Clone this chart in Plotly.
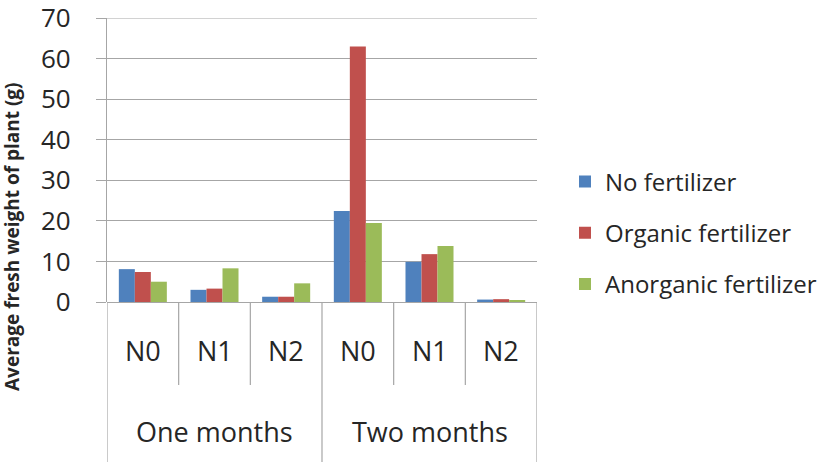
import plotly.graph_objects as go

groups = ["One months", "Two months"]
levels = ["N0", "N1", "N2"]
series_names = ["No fertilizer", "Organic fertilizer", "Anorganic fertilizer"]
no_fert = [8.1, 3.0, 1.3, 22.4, 9.9, 0.6]
organic = [7.4, 3.3, 1.3, 63.0, 11.8, 0.7]
anorganic = [5.0, 8.3, 4.6, 19.5, 13.8, 0.3]
colors = ["#4F81BD", "#C0504D", "#9BBB59"]
y_ticks = [0, 10, 20, 30, 40, 50, 60, 70]

W, H = 839, 466
ml, mr, mt, mb = 107, 302, 18, 164
ph = H - mt - mb

n_cat = len(groups) * len(levels)
xs = list(range(n_cat))
font = "Open Sans"
grid = "#A6A6A6"
txt = "#262626"

fig = go.Figure()
for name, vals, c in zip(series_names, [no_fert, organic, anorganic], colors):
    fig.add_trace(go.Bar(x=xs, y=vals, name=name, marker=dict(color=c, line=dict(width=0)),
                         legendgroup=name))

shapes = []
for b in range(n_cat + 1):
    outer = b % len(levels) == 0
    depth = (462 - 302) if outer else (385 - 302)
    shapes.append(dict(type="line", xref="x", yref="paper", x0=b - 0.5, x1=b - 0.5,
                       y0=0, y1=-depth / ph, line=dict(color=grid, width=1.2)))
# top gridline (at the last tick value)
shapes.append(dict(type="line", xref="paper", yref="y", x0=0, x1=1,
                   y0=y_ticks[-1], y1=y_ticks[-1], line=dict(color=grid, width=1.2)))

annotations = []
for i in range(n_cat):
    annotations.append(dict(x=i, y=-(350 - 302) / ph, xref="x", yref="paper",
                            text=levels[i % len(levels)], showarrow=False,
                            font=dict(family=font, size=27, color=txt),
                            xanchor="center", yanchor="middle"))
for g, gname in enumerate(groups):
    cx = g * len(levels) + (len(levels) - 1) / 2
    annotations.append(dict(x=cx, y=-(431 - 302) / ph, xref="x", yref="paper",
                            text=gname, showarrow=False,
                            font=dict(family=font, size=27, color=txt),
                            xanchor="center", yanchor="middle"))
annotations.append(dict(x=(12 - ml) / (W - ml - mr), y=(H - mb - 237) / ph, xref="paper", yref="paper",
                        text="<b>Average fresh weight of plant (g)</b>", textangle=-90,
                        showarrow=False, font=dict(family=font, size=19, color=txt),
                        xanchor="center", yanchor="middle"))

fig.update_layout(
    width=W, height=H,
    margin=dict(l=ml, r=mr, t=mt, b=mb, pad=0),
    paper_bgcolor="white", plot_bgcolor="white",
    barmode="group", bargap=0.33, bargroupgap=0,
    showlegend=True,
    legend=dict(x=(565 - ml) / (W - ml - mr), xanchor="left",
                y=(H - mb - 233) / ph, yanchor="middle",
                font=dict(family=font, size=24, color=txt),
                tracegroupgap=17, traceorder="grouped", itemwidth=30,
                bgcolor="rgba(0,0,0,0)"),
    xaxis=dict(range=[-0.5, n_cat - 0.5], showticklabels=False, showgrid=False,
               zeroline=False, showline=False, ticks="", automargin=False),
    yaxis=dict(range=[0, 70], tickvals=y_ticks, showgrid=True, gridcolor=grid, gridwidth=1.2,
               zeroline=True, zerolinecolor=grid, zerolinewidth=1.2,
               showline=True, linecolor=grid, linewidth=1.2,
               ticks="outside", ticklen=10, tickcolor=grid, tickwidth=1.2,
               ticklabelstandoff=20, automargin=False, ticklabeloverflow="allow",
               tickfont=dict(family=font, size=26, color=txt)),
    shapes=shapes, annotations=annotations,
)
fig.write_html("out.html")
